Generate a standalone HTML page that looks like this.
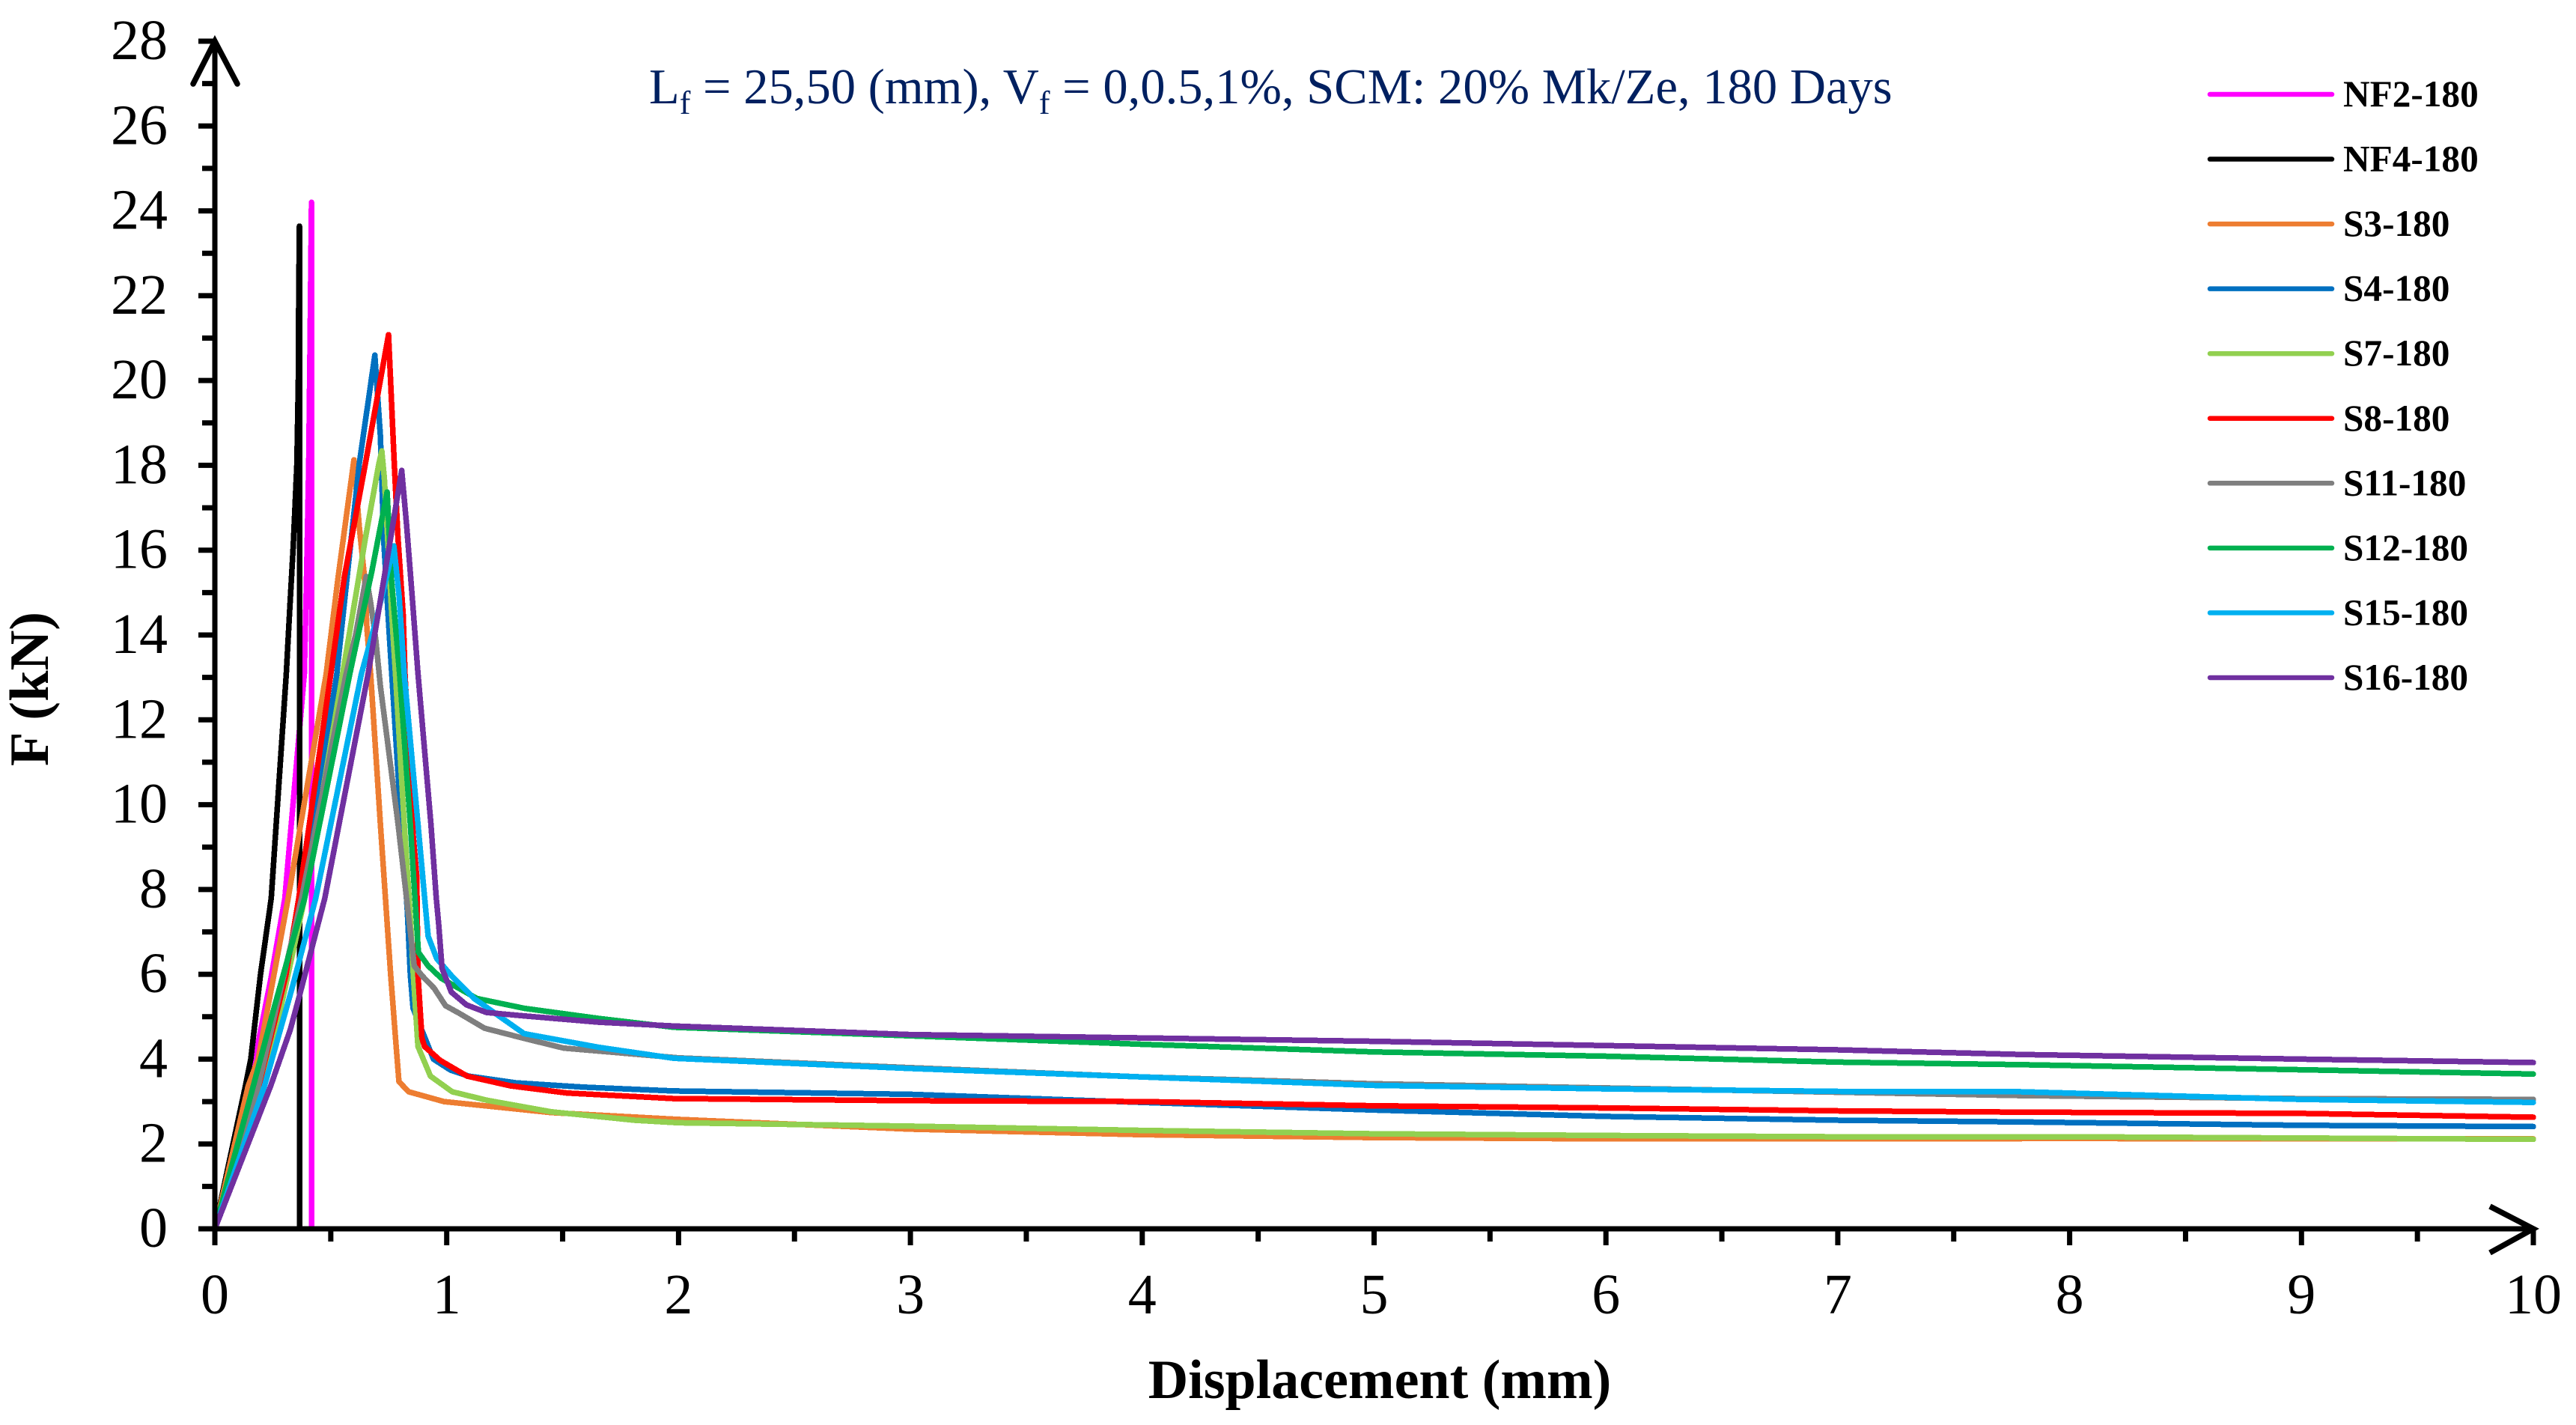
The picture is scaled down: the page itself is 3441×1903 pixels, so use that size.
<!DOCTYPE html>
<html lang="en">
<head>
<meta charset="utf-8">
<title>Load-displacement chart</title>
<style>
html,body{margin:0;padding:0;background:#fff;}
svg{display:block;font-family:"Liberation Serif",serif;}
</style>
</head>
<body>
<svg id="chart" xmlns="http://www.w3.org/2000/svg" width="3441" height="1903" viewBox="0 0 3441 1903">
<rect x="0" y="0" width="3441" height="1903" fill="#ffffff"/>
<g id="series-layer"></g>
<g id="axis-layer"></g>
<g id="legend-layer"></g>
<text x="867" y="138" font-size="66.6" fill="#002060">L<tspan font-size="44" dy="14">f</tspan><tspan dy="-14"> = 25,50 (mm), V</tspan><tspan font-size="44" dy="14">f</tspan><tspan dy="-14"> = 0,0.5,1%, SCM: 20% Mk/Ze, 180 Days</tspan></text>
<text x="1843" y="1867" font-size="74" font-weight="bold" text-anchor="middle" fill="#000">Displacement (mm)</text>
<text transform="translate(64,920) rotate(-90)" font-size="74.5" font-weight="bold" text-anchor="middle" fill="#000">F (kN)</text>
</svg>
<script>
var seriesNames = ["NF2-180","NF4-180","S3-180","S4-180","S7-180","S8-180","S11-180","S12-180","S15-180","S16-180"];
var seriesColors = ["#FF00FF","#000000","#ED7D31","#0070C0","#92D050","#FF0000","#7F7F7F","#00B050","#00B0F0","#7030A0"];

var nf2X = [0,0.15,0.242,0.302,0.386,0.395,0.405,0.41,0.417,0.417];
var nf2F = [0,3.37,5.9,7.79,13.08,15.2,18,20.6,24.2,0];

var nf4X = [0,0.132,0.155,0.197,0.243,0.308,0.322,0.338,0.354,0.36,0.362,0.365,0.365];
var nf4F = [0,3.37,4,6,7.79,13.08,14.5,16.09,18.03,20,22,23.64,0];

var s3X = [0,0.144,0.187,0.252,0.316,0.48,0.532,0.6,0.623,0.645,0.656,0.672,0.714,0.736,0.758,0.782,0.794,0.836,0.988,1.45,2,3,4,5,6,7,8,9,10];
var s3F = [0,3.37,4,5.9,7.79,13.08,15.38,18.13,16.56,15.38,14.14,13.08,9.55,7.79,6,4.3,3.47,3.23,3,2.74,2.58,2.35,2.22,2.15,2.12,2.12,2.13,2.12,2.12];

var s4X = [0,0.19,0.376,0.526,0.58,0.623,0.69,0.714,0.728,0.747,0.763,0.79,0.81,0.83,0.843,0.855,0.943,1.017,1.095,1.3,1.59,1.98,3,4,5,6,7,7.79,9,10];
var s4F = [0,3.37,7.79,13.08,15.85,18.03,20.6,18.7,16.27,14.5,13.08,10.73,9.07,7.5,6,5.2,4,3.74,3.6,3.44,3.34,3.25,3.17,2.98,2.8,2.65,2.56,2.52,2.44,2.41];

var s7X = [0,0.2,0.258,0.387,0.551,0.649,0.707,0.72,0.731,0.763,0.779,0.817,0.845,0.856,0.876,0.93,1.024,1.175,1.45,1.81,2,3,4,5,6,7,8,9,10];
var s7F = [0,3.37,4.55,7.79,13.08,16.27,18.03,18.34,17.7,14.5,13.08,9.55,7.2,6,4.3,3.6,3.23,3.03,2.76,2.56,2.5,2.42,2.32,2.24,2.2,2.17,2.17,2.14,2.11];

var s8X = [0,0.19,0.306,0.362,0.5,0.559,0.649,0.749,0.774,0.79,0.812,0.82,0.855,0.871,0.876,0.893,0.904,0.972,1.088,1.275,1.52,1.98,3,4,5,6,7,7.79,9,10];
var s8F = [0,3.37,5.97,7.79,13.08,15.38,18.03,21.08,18.03,16.27,14.5,13.08,9.3,8.3,6,4.5,4.3,3.97,3.6,3.37,3.2,3.07,3.02,3,2.9,2.85,2.78,2.75,2.72,2.63];

var s11X = [0,0.188,0.374,0.566,0.607,0.653,0.672,0.694,0.714,0.79,0.827,0.86,0.893,0.946,0.995,1.055,1.163,1.334,1.505,2,3,4,5,6,7,7.79,9,10];
var s11F = [0,3.37,7.79,13.08,14,15.38,14.76,13.9,12.8,9.55,7.79,6.2,5.97,5.67,5.26,5.08,4.73,4.49,4.26,4.03,3.8,3.58,3.42,3.32,3.22,3.14,3.07,3.05];

var s12X = [0,0.166,0.258,0.387,0.582,0.677,0.743,0.762,0.797,0.843,0.863,0.878,0.92,0.978,1.13,1.334,1.656,1.98,3,4,5,6,7,7.79,9,10];
var s12F = [0,3.37,5.26,7.79,13.08,15.5,17.37,15.3,13.08,9.55,7.79,6.52,6.2,5.9,5.43,5.2,4.96,4.75,4.55,4.35,4.17,4.07,3.93,3.87,3.75,3.65];

var s15X = [0,0.214,0.333,0.435,0.632,0.698,0.772,0.795,0.817,0.876,0.905,0.92,0.957,1.022,1.118,1.334,1.656,1.98,3,4,5,6,7,7.79,9,10];
var s15F = [0,3.37,5.67,7.79,13.08,14.4,16.1,14.9,13.08,9.55,7.79,6.9,6.37,5.96,5.43,4.6,4.28,4.02,3.78,3.58,3.38,3.3,3.24,3.23,3.05,2.98];

var s16X = [0,0.241,0.325,0.368,0.474,0.536,0.661,0.731,0.806,0.827,0.85,0.876,0.932,0.955,0.965,0.98,1.02,1.085,1.171,1.334,1.656,1.98,3,4,5,6,7,7.79,9,10];
var s16F = [0,3.37,4.69,5.56,7.79,9.55,13.08,15.38,17.88,16.6,15,13.1,9.55,7.79,7.2,6.14,5.58,5.28,5.1,5.02,4.87,4.78,4.58,4.5,4.42,4.32,4.22,4.11,4,3.92];

var seriesXs = [nf2X,nf4X,s3X,s4X,s7X,s8X,s11X,s12X,s15X,s16X];
var seriesFs = [nf2F,nf4F,s3F,s4F,s7F,s8F,s11F,s12F,s15F,s16F];

var yTickValues = [0,2,4,6,8,10,12,14,16,18,20,22,24,26,28];
var yMinorTickValues = [1,3,5,7,9,11,13,15,17,19,21,23,25,27];
var xTickValues = [0,1,2,3,4,5,6,7,8,9,10];
var xMinorTickValues = [0.5,1.5,2.5,3.5,4.5,5.5,6.5,7.5,8.5,9.5];

var SVGNS = "http://www.w3.org/2000/svg";
function xScale(v){ return 287 + v * (3384 - 287) / 10; }
function yScale(v){ return 1641 - v * (1641 - 55) / 28; }
function kebab(s){ return s.toLowerCase(); }

var seriesLayer = document.getElementById("series-layer");
var axisLayer = document.getElementById("axis-layer");
var legendLayer = document.getElementById("legend-layer");

seriesNames.forEach(function(name, i){
  var pts = seriesXs[i].map(function(x, j){ return xScale(x).toFixed(1) + "," + yScale(seriesFs[i][j]).toFixed(1); }).join(" ");
  var line = document.createElementNS(SVGNS, "polyline");
  line.setAttribute("points", pts);
  line.setAttribute("fill", "none");
  line.setAttribute("stroke", seriesColors[i]);
  line.setAttribute("stroke-width", "7.5");
  line.setAttribute("stroke-linejoin", "round");
  line.setAttribute("stroke-linecap", "round");
  line.setAttribute("shape-rendering", "crispEdges");
  
  
  seriesLayer.appendChild(line);
});

function makeLine(x1, y1, x2, y2){
  var l = document.createElementNS(SVGNS, "line");
  l.setAttribute("x1", x1);
  l.setAttribute("y1", y1);
  l.setAttribute("x2", x2);
  l.setAttribute("y2", y2);
  l.setAttribute("stroke", "#000");
  l.setAttribute("stroke-width", "7");
  axisLayer.appendChild(l);
  return l;
}
function makeLabel(x, y, anchor, txt){
  var t = document.createElementNS(SVGNS, "text");
  t.setAttribute("x", x);
  t.setAttribute("y", y);
  t.setAttribute("text-anchor", anchor);
  t.setAttribute("font-size", "76");
  t.setAttribute("fill", "#000");
  t.textContent = txt;
  axisLayer.appendChild(t);
  return t;
}

var yAxisLine = makeLine(287, 55, 287, 1644);


var xAxisLine = makeLine(265, 1641, 3384, 1641);



yTickValues.forEach(function(v){
  var tick = makeLine(265, yScale(v), 287, yScale(v));
  
  
  var label = makeLabel(224, yScale(v) + 24, "end", String(v));
  
  
});
yMinorTickValues.forEach(function(v){
  var tick = makeLine(270, yScale(v), 287, yScale(v));
  
  
});
xTickValues.forEach(function(v){
  var tick = makeLine(xScale(v), 1641, xScale(v), 1663);
  
  
  var label = makeLabel(xScale(v), 1754, "middle", String(v));
  
  
});
xMinorTickValues.forEach(function(v){
  var tick = makeLine(xScale(v), 1641, xScale(v), 1658);
  
  
});

var yArrow = document.createElementNS(SVGNS, "polyline");
yArrow.setAttribute("points", "258,112 287,55 317,112");
yArrow.setAttribute("fill", "none");
yArrow.setAttribute("stroke", "#000");
yArrow.setAttribute("stroke-width", "7.5");
yArrow.setAttribute("stroke-linecap", "round");


axisLayer.appendChild(yArrow);

var xArrow = document.createElementNS(SVGNS, "polyline");
xArrow.setAttribute("points", "3326,1611 3384,1641 3326,1673");
xArrow.setAttribute("fill", "none");
xArrow.setAttribute("stroke", "#000");
xArrow.setAttribute("stroke-width", "7.5");
xArrow.setAttribute("stroke-linecap", "butt");


axisLayer.appendChild(xArrow);

seriesNames.forEach(function(name, i){
  var rowY = 126 + i * 86.55;
  var swatch = document.createElementNS(SVGNS, "line");
  swatch.setAttribute("x1", 2952);
  swatch.setAttribute("x2", 3115);
  swatch.setAttribute("y1", rowY);
  swatch.setAttribute("y2", rowY);
  swatch.setAttribute("stroke", seriesColors[i]);
  swatch.setAttribute("stroke-width", "6.5");
  swatch.setAttribute("stroke-linecap", "round");
  
  
  legendLayer.appendChild(swatch);
  var label = document.createElementNS(SVGNS, "text");
  label.setAttribute("x", 3130);
  label.setAttribute("y", rowY + 16);
  label.setAttribute("font-size", "49.3");
  label.setAttribute("font-weight", "bold");
  label.setAttribute("fill", "#000");
  label.textContent = name;
  
  
  legendLayer.appendChild(label);
});
</script>
</body>
</html>
